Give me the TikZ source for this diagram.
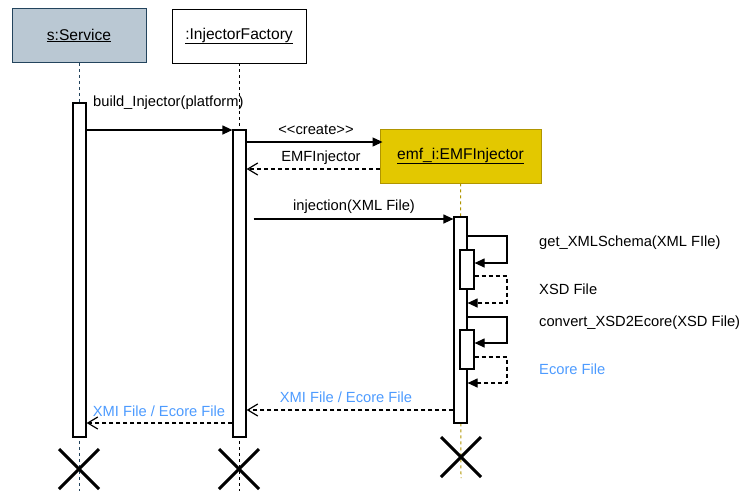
\documentclass[tikz,border=0pt]{standalone}
\usepackage{fontspec}
\setmainfont{Liberation Sans}
\usetikzlibrary{arrows.meta}
\definecolor{svcfill}{HTML}{BAC8D3}
\definecolor{svcline}{HTML}{23445D}
\definecolor{emffill}{HTML}{E3C800}
\definecolor{emfline}{HTML}{B09500}
\definecolor{lblblue}{HTML}{4D9BFF}
\tikzset{
  objbox/.style={draw, line width=0.9pt, minimum width=134pt, minimum height=54pt, inner sep=2pt, font=\fontsize{15.6}{18}\selectfont},
  actbar/.style={draw, fill=white, line width=1.2pt, minimum width=13pt, inner sep=0pt},
  life/.style={dash pattern=on 3pt off 3pt, line width=1pt},
  msg/.style={line width=1.2pt, -{Triangle[length=10pt,width=9pt]}},
  ret/.style={line width=1.2pt, dash pattern=on 4pt off 3pt, -{Straight Barb[length=10pt,width=12pt]}},
  selfret/.style={line width=1.2pt, dash pattern=on 4pt off 3pt, -{Triangle[length=10pt,width=9pt]}},
  lbl/.style={inner sep=0pt},
  kill/.style={line width=3pt}
}
\begin{document}
\begin{tikzpicture}[x=1pt,y=-1pt,font=\fontsize{14.7}{17}\selectfont]
\useasboundingbox (0,0) rectangle (741,491);
% objects
\node[objbox, draw=svcline, fill=svcfill] (svc) at (79,35.5) {\underline{s:Service}};
\node[objbox] (fac) at (239,36) {\underline{:InjectorFactory}};
\node[objbox, draw=emfline, fill=emffill, minimum width=161pt] (emf) at (460.5,156) {\underline{emf\_i:EMFInjector}};
% lifelines
\coordinate (svcend) at (79,491);
\coordinate (facend) at (239,491);
\coordinate (emfend) at (461,478);
\draw[life, svcline] (svc.south) -- (svcend);
\draw[life] (fac.south) -- (facend);
\draw[life, emfline] (emf.south) -- (emfend);
% activations
\node[actbar, minimum height=334pt] (a1) at (79.5,270) {};
\node[actbar, minimum height=307pt] (a2) at (239.5,283.5) {};
\node[actbar, minimum height=206pt] (a3) at (460.5,320) {};
\node[actbar, minimum width=14pt, minimum height=39pt] (a4) at (467,269.5) {};
\node[actbar, minimum width=14pt, minimum height=39pt] (a5) at (467,349.5) {};
% messages
\draw[msg] (a1.east |- 0,130) -- (a2.west |- 0,130);
\node[lbl, anchor=west] (l1) at (93,103) {build\_Injector(platform)};
\draw[msg] (a2.east |- 0,142) -- ([xshift=3pt]emf.west |- 0,142);
\node[lbl] (l2) at (316,130) {<{}<create>{}>};
\draw[ret] (emf.west |- 0,169) -- (a2.east |- 0,169);
\node[lbl] (l3) at (321,158) {EMFInjector};
\draw[msg] ([xshift=7pt]a2.east |- 0,219) -- (a3.west |- 0,219);
\node[lbl] (l4) at (354,207) {injection(XML File)};
% self calls
\draw[msg] (a3.east |- 0,236) -- (507,236) -- (507,263) -- (a4.east |- 0,263);
\node[lbl, anchor=west] (l5) at (539,243) {get\_XMLSchema(XML FIle)};
\draw[selfret] (a4.east |- 0,276) -- (507,276) -- (507,303) -- (a3.east |- 0,303);
\node[lbl, anchor=west] (l6) at (539,289) {XSD File};
\draw[msg] (a3.east |- 0,317) -- (507,317) -- (507,343) -- (a5.east |- 0,343);
\node[lbl, anchor=west] (l7) at (539,323) {convert\_XSD2Ecore(XSD File)};
\draw[selfret] (a5.east |- 0,357) -- (507,357) -- (507,383) -- (a3.east |- 0,383);
\node[lbl, anchor=west, text=lblblue] (l8) at (539,369) {Ecore File};
% returns
\draw[ret] (a3.west |- 0,410) -- (a2.east |- 0,410);
\node[lbl, text=lblblue] (l9) at (346,397) {XMI File / Ecore File};
\draw[ret] (a2.west |- 0,423) -- (a1.east |- 0,423);
\node[lbl, text=lblblue] (l10) at (159,411) {XMI File / Ecore File};
% destroy marks
\coordinate (x1) at (79,469);
\coordinate (x2) at (239,469);
\coordinate (x3) at (461,457);
\foreach \c in {x1,x2,x3}{
  \draw[kill] ([shift={(-20pt,-20pt)}]\c) -- ([shift={(20pt,20pt)}]\c);
  \draw[kill] ([shift={(-20pt,20pt)}]\c) -- ([shift={(20pt,-20pt)}]\c);
}
\end{tikzpicture}
\end{document}
